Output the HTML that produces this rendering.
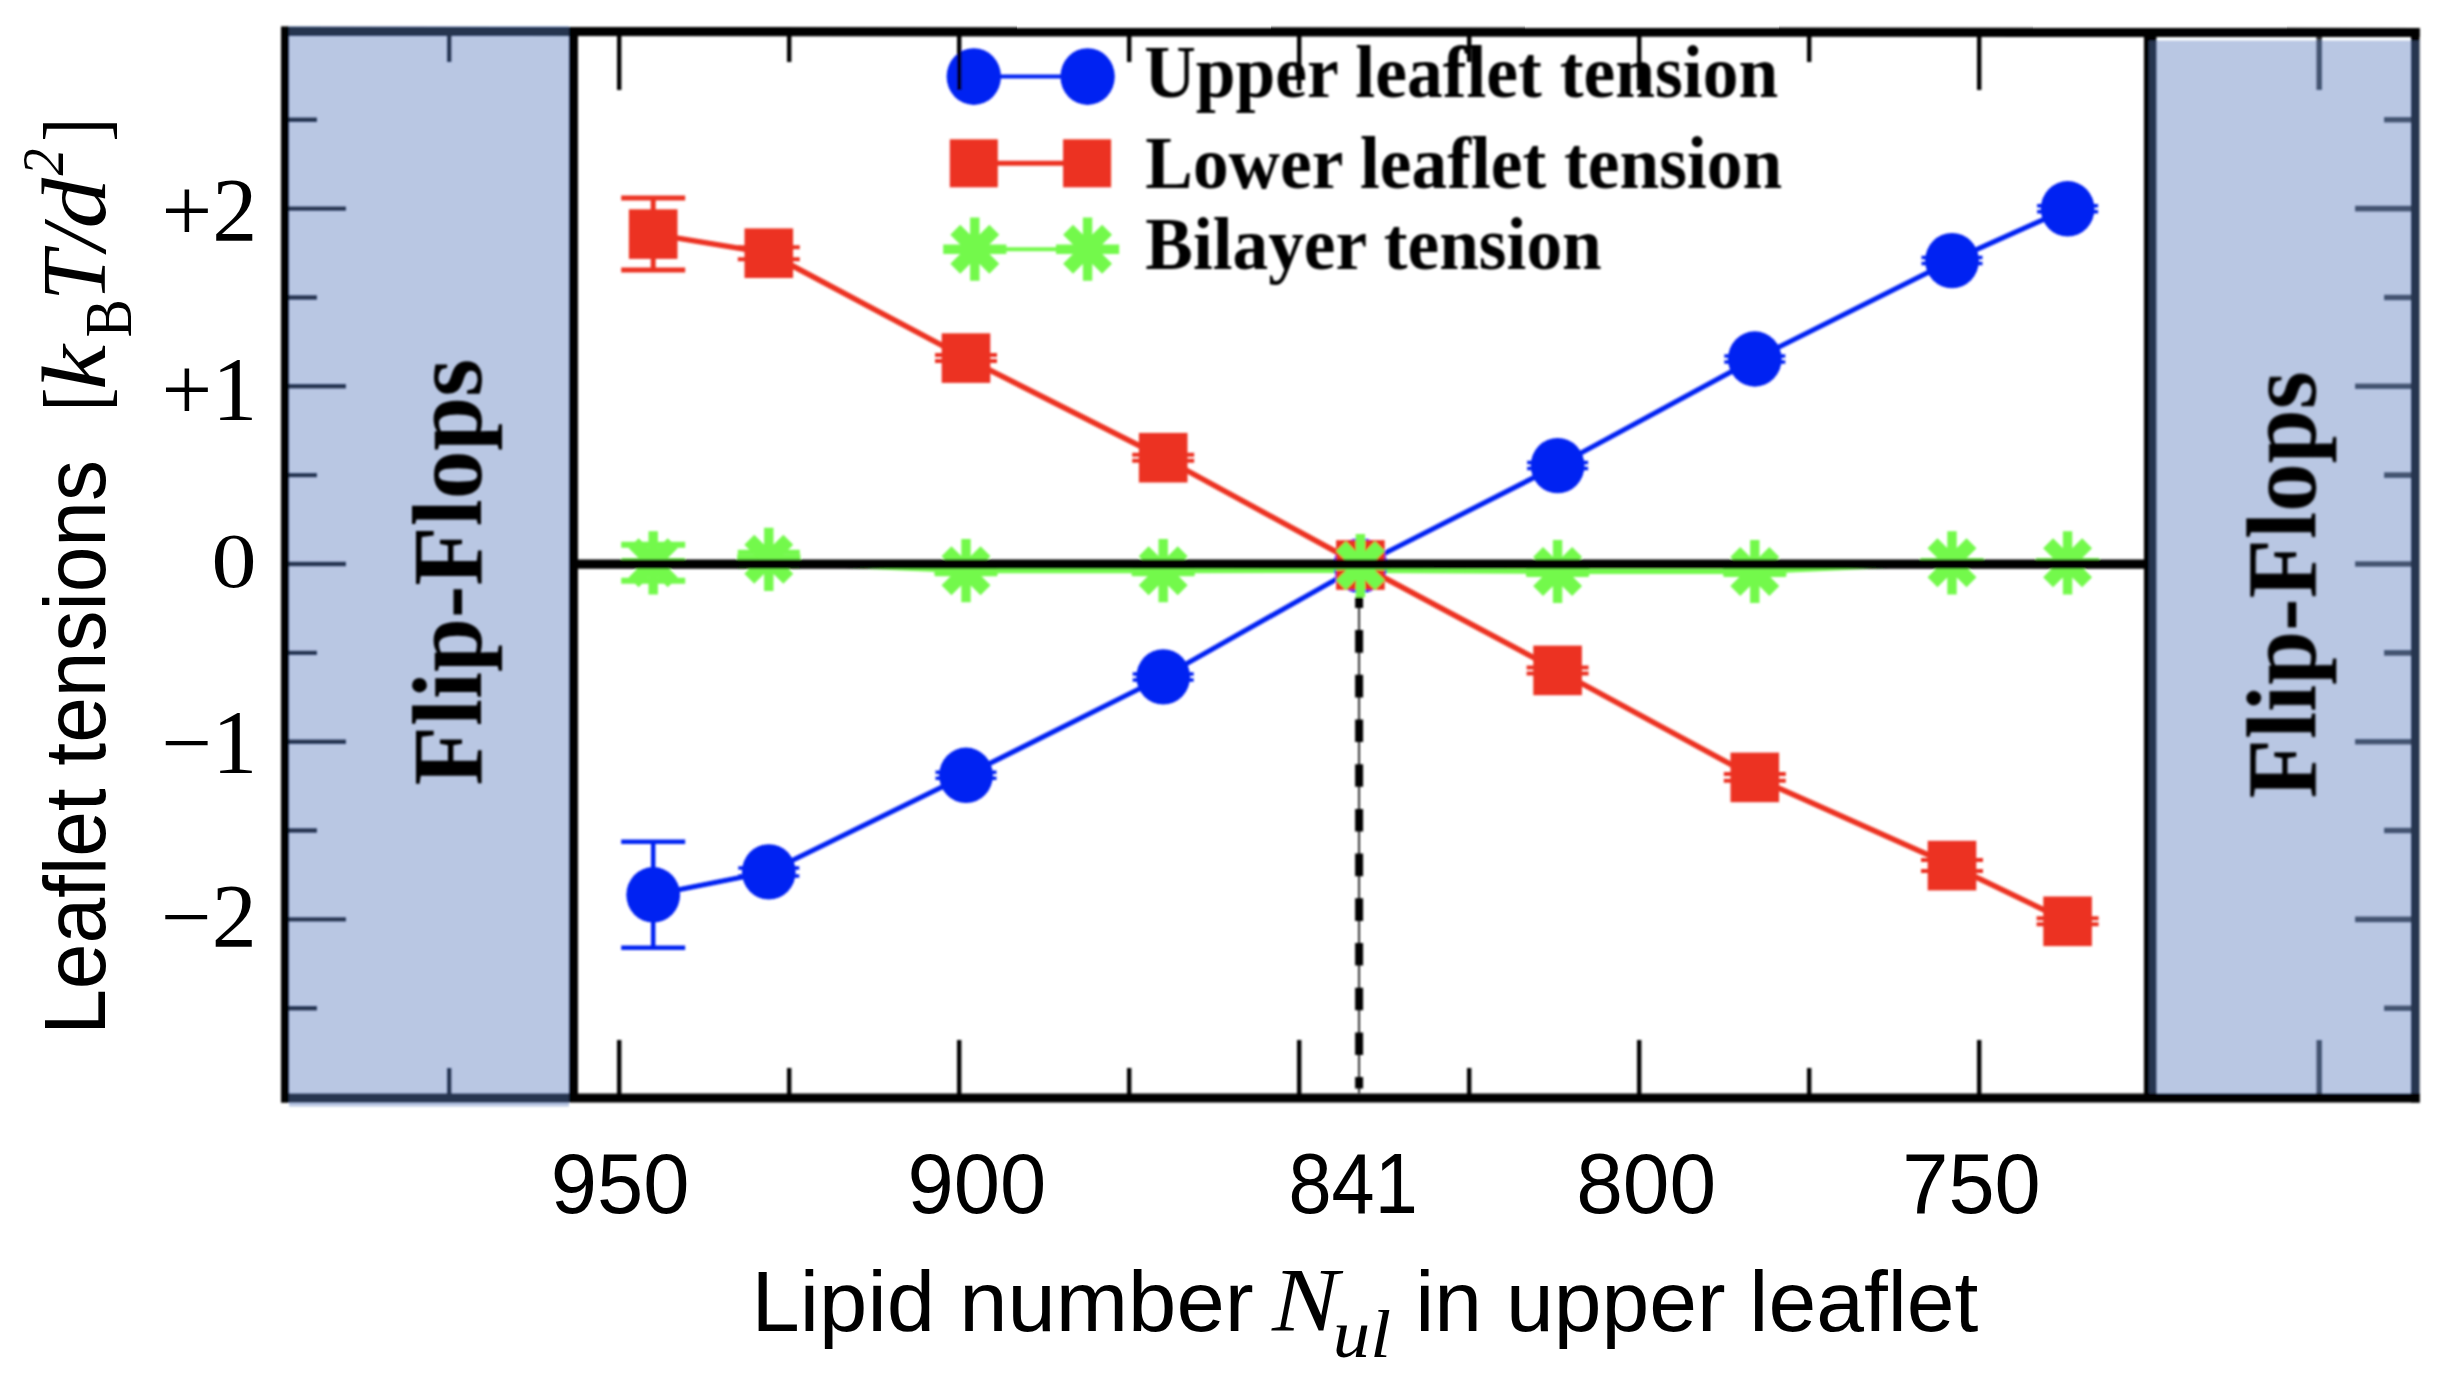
<!DOCTYPE html>
<html lang="en"><head><meta charset="utf-8"><title>Leaflet tensions</title>
<style>html,body{margin:0;padding:0;background:#fff}body{width:2447px;height:1373px;overflow:hidden}svg{display:block}.sans{font-family:"Liberation Sans",sans-serif}.serif{font-family:"Liberation Serif",serif}</style></head><body>
<svg width="2447" height="1373" viewBox="0 0 2447 1373">
<defs><filter id="soft" x="-2%" y="-2%" width="104%" height="104%"><feGaussianBlur stdDeviation="1.3"/></filter></defs>
<rect width="2447" height="1373" fill="#fff"/>
<g filter="url(#soft)">
<polyline points="653.2,564.0 768.8,562.2 966.0,570.7 1163.2,570.7 1360.4,570.4 1557.6,571.5 1754.8,571.5 1952.0,562.8 2067.6,562.8" fill="none" stroke="#73f94b" stroke-width="5"/>
<polyline points="653.2,894.8 768.8,871.9 966.0,775.3 1163.2,676.9 1360.4,565.6 1557.6,465.6 1754.8,359.0 1952.0,260.6 2067.6,208.8" fill="none" stroke="#0020f2" stroke-width="5"/>
<path d="M653.2 841.8V947.8M621.2 841.8H685.2M621.2 947.8H685.2" stroke="#0020f2" stroke-width="4.5" fill="none"/>
<path d="M738.3 867.9H799.3M738.3 875.9H799.3" stroke="#0020f2" stroke-width="3.5" fill="none"/>
<path d="M935.5 772.3H996.5M935.5 778.3H996.5" stroke="#0020f2" stroke-width="3.5" fill="none"/>
<path d="M1132.7 673.9H1193.7M1132.7 679.9H1193.7" stroke="#0020f2" stroke-width="3.5" fill="none"/>
<path d="M1329.9 563.6H1390.9M1329.9 567.6H1390.9" stroke="#0020f2" stroke-width="3.5" fill="none"/>
<path d="M1527.1 462.6H1588.1M1527.1 468.6H1588.1" stroke="#0020f2" stroke-width="3.5" fill="none"/>
<path d="M1724.3 356.0H1785.3M1724.3 362.0H1785.3" stroke="#0020f2" stroke-width="3.5" fill="none"/>
<path d="M1921.5 257.6H1982.5M1921.5 263.6H1982.5" stroke="#0020f2" stroke-width="3.5" fill="none"/>
<path d="M2037.1 205.8H2098.1M2037.1 211.8H2098.1" stroke="#0020f2" stroke-width="3.5" fill="none"/>
<ellipse cx="653.2" cy="894.8" rx="26.9" ry="27.7" fill="#0020f2"/>
<ellipse cx="768.8" cy="871.9" rx="26.9" ry="27.7" fill="#0020f2"/>
<ellipse cx="966.0" cy="775.3" rx="26.9" ry="27.7" fill="#0020f2"/>
<ellipse cx="1163.2" cy="676.9" rx="26.9" ry="27.7" fill="#0020f2"/>
<ellipse cx="1360.4" cy="565.6" rx="26.9" ry="27.7" fill="#0020f2"/>
<ellipse cx="1557.6" cy="465.6" rx="26.9" ry="27.7" fill="#0020f2"/>
<ellipse cx="1754.8" cy="359.0" rx="26.9" ry="27.7" fill="#0020f2"/>
<ellipse cx="1952.0" cy="260.6" rx="26.9" ry="27.7" fill="#0020f2"/>
<ellipse cx="2067.6" cy="208.8" rx="26.9" ry="27.7" fill="#0020f2"/>
<polyline points="653.2,234.1 768.8,253.2 966.0,358.1 1163.2,457.7 1360.4,565.0 1557.6,670.4 1754.8,777.4 1952.0,865.6 2067.6,921.3" fill="none" stroke="#ec3223" stroke-width="5.5"/>
<path d="M653.2 198.1V270.1M621.2 198.1H685.2M621.2 270.1H685.2" stroke="#ec3223" stroke-width="5.0" fill="none"/>
<path d="M737.8 247.2H799.8M737.8 259.2H799.8" stroke="#ec3223" stroke-width="4.0" fill="none"/>
<path d="M935.0 355.1H997.0M935.0 361.1H997.0" stroke="#ec3223" stroke-width="4.0" fill="none"/>
<path d="M1132.2 454.7H1194.2M1132.2 460.7H1194.2" stroke="#ec3223" stroke-width="4.0" fill="none"/>
<path d="M1329.4 563.0H1391.4M1329.4 567.0H1391.4" stroke="#ec3223" stroke-width="4.0" fill="none"/>
<path d="M1526.6 667.4H1588.6M1526.6 673.4H1588.6" stroke="#ec3223" stroke-width="4.0" fill="none"/>
<path d="M1723.8 774.1H1785.8M1723.8 780.7H1785.8" stroke="#ec3223" stroke-width="4.0" fill="none"/>
<path d="M1921.0 860.1H1983.0M1921.0 871.1H1983.0" stroke="#ec3223" stroke-width="4.0" fill="none"/>
<path d="M2036.6 918.3H2098.6M2036.6 924.3H2098.6" stroke="#ec3223" stroke-width="4.0" fill="none"/>
<rect x="628.9" y="209.3" width="48.6" height="49.6" fill="#ec3223"/>
<rect x="744.5" y="228.4" width="48.6" height="49.6" fill="#ec3223"/>
<rect x="941.7" y="333.3" width="48.6" height="49.6" fill="#ec3223"/>
<rect x="1138.9" y="432.9" width="48.6" height="49.6" fill="#ec3223"/>
<rect x="1336.1" y="540.2" width="48.6" height="49.6" fill="#ec3223"/>
<rect x="1533.3" y="645.6" width="48.6" height="49.6" fill="#ec3223"/>
<rect x="1730.5" y="752.6" width="48.6" height="49.6" fill="#ec3223"/>
<rect x="1927.7" y="840.8" width="48.6" height="49.6" fill="#ec3223"/>
<rect x="2043.3" y="896.5" width="48.6" height="49.6" fill="#ec3223"/>
<path d="M653.2 544.8V580.8M621.2 544.8H685.2M621.2 580.8H685.2" stroke="#73f94b" stroke-width="6.0" fill="none"/>
<circle cx="653.2" cy="562.8" r="15.5" fill="#73f94b"/><path d="M653.2 531.2V594.4M621.6 562.8H684.8" stroke="#73f94b" stroke-width="9.4" fill="none"/><path d="M633.7 543.3L672.7 582.3M633.7 582.3L672.7 543.3" stroke="#73f94b" stroke-width="14" fill="none"/>
<path d="M737.8 552.3H799.8M737.8 566.3H799.8" stroke="#73f94b" stroke-width="5.0" fill="none"/>
<circle cx="768.8" cy="559.3" r="15.5" fill="#73f94b"/><path d="M768.8 527.7V590.9M737.2 559.3H800.4" stroke="#73f94b" stroke-width="9.4" fill="none"/><path d="M749.3 539.8L788.3 578.8M749.3 578.8L788.3 539.8" stroke="#73f94b" stroke-width="14" fill="none"/>
<path d="M935.0 567.7H997.0M935.0 573.7H997.0" stroke="#73f94b" stroke-width="5.0" fill="none"/>
<circle cx="966.0" cy="570.7" r="15.5" fill="#73f94b"/><path d="M966.0 539.1V602.3M934.4 570.7H997.6" stroke="#73f94b" stroke-width="9.4" fill="none"/><path d="M946.5 551.2L985.5 590.2M946.5 590.2L985.5 551.2" stroke="#73f94b" stroke-width="14" fill="none"/>
<path d="M1132.2 567.7H1194.2M1132.2 573.7H1194.2" stroke="#73f94b" stroke-width="5.0" fill="none"/>
<circle cx="1163.2" cy="570.7" r="15.5" fill="#73f94b"/><path d="M1163.2 539.1V602.3M1131.6 570.7H1194.8" stroke="#73f94b" stroke-width="9.4" fill="none"/><path d="M1143.7 551.2L1182.7 590.2M1143.7 590.2L1182.7 551.2" stroke="#73f94b" stroke-width="14" fill="none"/>
<circle cx="1360.4" cy="565.6" r="15.5" fill="#73f94b"/><path d="M1360.4 534.0V597.2M1328.8 565.6H1392.0" stroke="#73f94b" stroke-width="9.4" fill="none"/><path d="M1340.9 546.1L1379.9 585.1M1340.9 585.1L1379.9 546.1" stroke="#73f94b" stroke-width="14" fill="none"/>
<path d="M1526.6 568.5H1588.6M1526.6 574.5H1588.6" stroke="#73f94b" stroke-width="5.0" fill="none"/>
<circle cx="1557.6" cy="571.5" r="15.5" fill="#73f94b"/><path d="M1557.6 539.9V603.1M1526.0 571.5H1589.2" stroke="#73f94b" stroke-width="9.4" fill="none"/><path d="M1538.1 552.0L1577.1 591.0M1538.1 591.0L1577.1 552.0" stroke="#73f94b" stroke-width="14" fill="none"/>
<path d="M1723.8 568.5H1785.8M1723.8 574.5H1785.8" stroke="#73f94b" stroke-width="5.0" fill="none"/>
<circle cx="1754.8" cy="571.5" r="15.5" fill="#73f94b"/><path d="M1754.8 539.9V603.1M1723.2 571.5H1786.4" stroke="#73f94b" stroke-width="9.4" fill="none"/><path d="M1735.3 552.0L1774.3 591.0M1735.3 591.0L1774.3 552.0" stroke="#73f94b" stroke-width="14" fill="none"/>
<circle cx="1952.0" cy="562.8" r="15.5" fill="#73f94b"/><path d="M1952.0 531.2V594.4M1920.4 562.8H1983.6" stroke="#73f94b" stroke-width="9.4" fill="none"/><path d="M1932.5 543.3L1971.5 582.3M1932.5 582.3L1971.5 543.3" stroke="#73f94b" stroke-width="14" fill="none"/>
<circle cx="2067.6" cy="562.8" r="15.5" fill="#73f94b"/><path d="M2067.6 531.2V594.4M2036.0 562.8H2099.2" stroke="#73f94b" stroke-width="9.4" fill="none"/><path d="M2048.1 543.3L2087.1 582.3M2048.1 582.3L2087.1 543.3" stroke="#73f94b" stroke-width="14" fill="none"/>
<path d="M973.8 76.6H1087.6" stroke="#0020f2" stroke-width="4"/>
<ellipse cx="973.8" cy="76.6" rx="27.2" ry="28.4" fill="#0020f2"/><ellipse cx="1087.6" cy="76.6" rx="27.2" ry="28.4" fill="#0020f2"/>
<path d="M973.8 163.3H1087.6" stroke="#ec3223" stroke-width="5"/>
<rect x="949.8" y="139.3" width="48" height="48" fill="#ec3223"/><rect x="1063.1" y="139.3" width="48" height="48" fill="#ec3223"/>
<path d="M973.8 249.2H1087.6" stroke="#73f94b" stroke-width="4"/>
<circle cx="974.8" cy="249.2" r="15.5" fill="#73f94b"/><path d="M974.8 217.6V280.8M943.2 249.2H1006.4" stroke="#73f94b" stroke-width="9.4" fill="none"/><path d="M955.3 229.7L994.3 268.7M955.3 268.7L994.3 229.7" stroke="#73f94b" stroke-width="14" fill="none"/>
<circle cx="1087.6" cy="249.2" r="15.5" fill="#73f94b"/><path d="M1087.6 217.6V280.8M1056.0 249.2H1119.2" stroke="#73f94b" stroke-width="9.4" fill="none"/><path d="M1068.1 229.7L1107.1 268.7M1068.1 268.7L1107.1 229.7" stroke="#73f94b" stroke-width="14" fill="none"/>
<text class="serif" font-size="71" font-weight="bold" textLength="634.0" lengthAdjust="spacingAndGlyphs" transform="translate(1144.2 97.0) scale(1 1.035)">Upper leaflet tension</text>
<text class="serif" font-size="71" font-weight="bold" textLength="636.8" lengthAdjust="spacingAndGlyphs" transform="translate(1145.3 188.3) scale(1 1.035)">Lower leaflet tension</text>
<text class="serif" font-size="71" font-weight="bold" textLength="456.5" lengthAdjust="spacingAndGlyphs" transform="translate(1145.3 269.0) scale(1 1.035)">Bilayer tension</text>
<path d="M573 564.2H2149" stroke="#000" stroke-width="9.2"/>
<path d="M1359.1 597.3V1093" stroke="#000" stroke-width="1.6"/>
<path d="M1359.1 597.3V1088.6" stroke="#000" stroke-width="8" stroke-dasharray="22.6 22.1" stroke-dashoffset="11.9"/>
<path d="M285 26.5V1102.6" stroke="#000" stroke-width="8" fill="none"/>
<path d="M281 31.4L2419.8 32.5" stroke="#000" stroke-width="9.2" fill="none"/>
<path d="M281 1098H2419.8" stroke="#000" stroke-width="9" fill="none"/>
<path d="M2415.3 28V1102.5" stroke="#000" stroke-width="8.6" fill="none"/>
<path d="M573.5 27V1102" stroke="#000" stroke-width="9" fill="none"/>
<path d="M2150.2 28V1102" stroke="#000" stroke-width="12.5" fill="none"/>
<path d="M449.2 35V62.0M449.2 1094V1068.0M619.2 35V90.0M619.2 1094V1040.0M789.2 35V62.0M789.2 1094V1068.0M959.2 35V90.0M959.2 1094V1040.0M1129.2 35V62.0M1129.2 1094V1068.0M1299.2 35V90.0M1299.2 1094V1040.0M1469.2 35V62.0M1469.2 1094V1068.0M1639.2 35V90.0M1639.2 1094V1040.0M1809.2 35V62.0M1809.2 1094V1068.0M1979.2 35V90.0M1979.2 1094V1040.0M289 1008.2H317.0M289 919.4H346.0M289 830.5H317.0M289 741.7H346.0M289 652.9H317.0M289 564.0H346.0M289 475.1H317.0M289 386.3H346.0M289 297.5H317.0M289 208.6H346.0M289 119.8H317.0" stroke="#000" stroke-width="4.4" fill="none"/>
<path d="M2319.2 35V90.0M2319.2 1094V1040.0M2411 1008.2H2384.0M2411 919.4H2355.0M2411 830.5H2384.0M2411 741.7H2355.0M2411 652.9H2384.0M2411 564.0H2355.0M2411 475.1H2384.0M2411 386.3H2355.0M2411 297.5H2384.0M2411 208.6H2355.0M2411 119.8H2384.0" stroke="#000" stroke-opacity="0.78" stroke-width="5.6" fill="none"/>
<rect x="289" y="26" width="280" height="1080.5" fill="rgba(89,122,188,0.425)"/>
<rect x="2149" y="40.5" width="270.6" height="1053" fill="rgba(89,122,188,0.425)"/>
</g>
<g filter="url(#soft)">
<text class="serif" font-size="99" font-weight="bold" transform="translate(480.6 785.4) rotate(-90)" textLength="426.5" lengthAdjust="spacingAndGlyphs">Flip-Flops</text>
<text class="serif" font-size="99" font-weight="bold" transform="translate(2315.3 798.4) rotate(-90)" textLength="427" lengthAdjust="spacingAndGlyphs">Flip-Flops</text>
</g>
<text class="serif" x="257.2" y="241.3" font-size="90" text-anchor="end">+2</text>
<text class="serif" x="257.2" y="419.7" font-size="90" text-anchor="end">+1</text>
<text class="serif" x="257.2" y="772.7" font-size="90" text-anchor="end">−1</text>
<text class="serif" x="256.7" y="946.9" font-size="90" text-anchor="end">−2</text>
<text class="serif" font-size="90" text-anchor="end" transform="translate(256.6 587.2) scale(1 0.86)">0</text>
<g transform="translate(105 1034.8) rotate(-90)">
<text class="sans" x="0" y="0" font-size="87" textLength="574.8" lengthAdjust="spacingAndGlyphs">Leaflet tensions</text>
<text class="serif" x="623.6" y="0.0" font-size="88" textLength="23.5" lengthAdjust="spacingAndGlyphs">[</text>
<text class="serif" x="644.9" y="0.0" font-size="90" font-style="italic" textLength="45.1" lengthAdjust="spacingAndGlyphs">k</text>
<text class="serif" x="697.4" y="25.6" font-size="67" textLength="38.4" lengthAdjust="spacingAndGlyphs">B</text>
<text class="serif" x="733.7" y="0.0" font-size="90" font-style="italic">T</text>
<text class="serif" x="784.3" y="0.0" font-size="90" font-style="italic">/</text>
<text class="serif" x="806.4" y="0.0" font-size="90" font-style="italic" textLength="50.4" lengthAdjust="spacingAndGlyphs">d</text>
<text class="serif" x="859.3" y="-42.1" font-size="60" font-style="italic" textLength="27.0" lengthAdjust="spacingAndGlyphs">2</text>
<text class="serif" x="893.3" y="0.0" font-size="88" textLength="23.5" lengthAdjust="spacingAndGlyphs">]</text>
</g>
<text class="sans" x="550.7" y="1212.8" font-size="86" textLength="138.8" lengthAdjust="spacingAndGlyphs">950</text>
<text class="sans" x="907.5" y="1212.8" font-size="86" textLength="138.8" lengthAdjust="spacingAndGlyphs">900</text>
<text class="sans" x="1288.5" y="1212.8" font-size="86" textLength="129.2" lengthAdjust="spacingAndGlyphs">841</text>
<text class="sans" x="1576.2" y="1212.8" font-size="86" textLength="140.0" lengthAdjust="spacingAndGlyphs">800</text>
<text class="sans" x="1902.3" y="1212.8" font-size="86" textLength="138.5" lengthAdjust="spacingAndGlyphs">750</text>
<text class="sans" x="751.5" y="1330.6" font-size="85" textLength="502.1" lengthAdjust="spacingAndGlyphs">Lipid number</text>
<text class="serif" x="1271.9" y="1330.6" font-size="90" font-style="italic" textLength="66.7" lengthAdjust="spacingAndGlyphs">N</text>
<text class="serif" x="1332.8" y="1357.4" font-size="68" font-style="italic" textLength="58.2" lengthAdjust="spacingAndGlyphs">ul</text>
<text class="sans" x="1415.3" y="1330.6" font-size="85" textLength="563.1" lengthAdjust="spacingAndGlyphs">in upper leaflet</text>
</svg></body></html>
